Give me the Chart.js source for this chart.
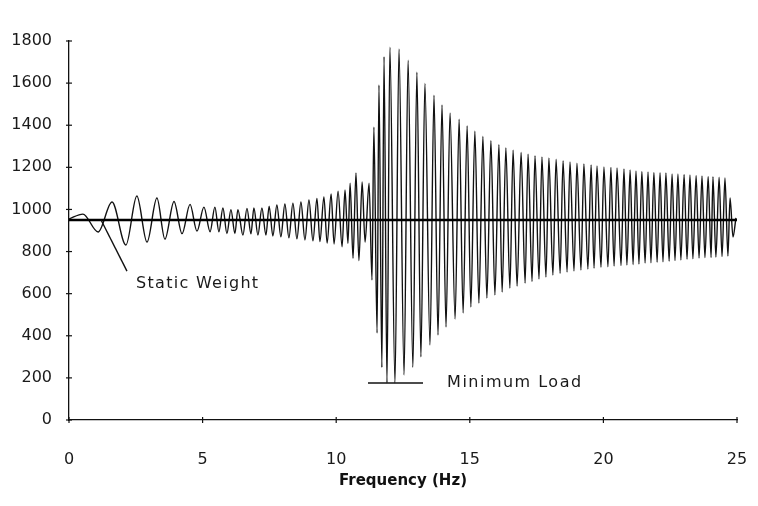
<!DOCTYPE html>
<html>
<head>
<meta charset="utf-8">
<script src="https://cdn.jsdelivr.net/npm/chart.js@4/dist/chart.umd.min.js"></script>
<style>
  html, body { margin: 0; padding: 0; background: #ffffff; }
  #c { display: block; }
</style>
</head>
<body>
<canvas id="c" width="758" height="506"></canvas>
<script>
// ---- Data ----
// Frequency (Hz) of each turning point of the dynamic load trace
const freqHz = [
  0, 0.52, 1.09, 1.61, 2.13, 2.54, 2.92, 3.29, 3.59, 3.93, 4.23, 4.53, 4.79,
  5.05, 5.28, 5.46, 5.61, 5.76, 5.91, 6.06, 6.21, 6.32, 6.51, 6.66, 6.81, 6.92,
  7.07, 7.22, 7.37, 7.49, 7.63, 7.78, 7.93, 8.08, 8.23, 8.38, 8.53, 8.68, 8.83,
  8.98, 9.13, 9.28, 9.39, 9.54, 9.66, 9.81, 9.92, 10.07, 10.22, 10.33, 10.44,
  10.52, 10.63, 10.74, 10.85, 10.97, 11.08, 11.23, 11.34, 11.41, 11.53, 11.60,
  11.71, 11.79, 11.90, 12.01, 12.20, 12.35, 12.54, 12.69, 12.87, 13.02, 13.17,
  13.32, 13.51, 13.66, 13.81, 13.96, 14.11, 14.26, 14.45, 14.60, 14.75, 14.90,
  15.04, 15.19, 15.34, 15.49, 15.64, 15.79, 15.94, 16.09, 16.21, 16.35, 16.50,
  16.62, 16.77, 16.92, 17.07, 17.18, 17.33, 17.44, 17.59, 17.70, 17.85, 17.96,
  18.11, 18.23, 18.38, 18.49, 18.64, 18.75, 18.90, 19.01, 19.16, 19.27, 19.42,
  19.54, 19.65, 19.76, 19.91, 20.02, 20.17, 20.28, 20.40, 20.51, 20.66, 20.77,
  20.88, 21.00, 21.11, 21.22, 21.33, 21.44, 21.56, 21.67, 21.78, 21.89, 22.01,
  22.12, 22.23, 22.34, 22.46, 22.57, 22.68, 22.79, 22.90, 23.02, 23.13, 23.24,
  23.35, 23.47, 23.58, 23.69, 23.80, 23.92, 24.03, 24.10, 24.21, 24.33, 24.44,
  24.55, 24.66, 24.74, 24.85, 24.96
];
// Load at each turning point
const loadValues = [
  955, 978, 893, 1035, 831, 1064, 845, 1054, 859, 1038, 885, 1024, 897,
  1011, 894, 1011, 894, 1007, 886, 999, 886, 999, 878, 1005, 884, 1007,
  878, 1007, 878, 1016, 874, 1021, 870, 1026, 865, 1030, 860, 1035, 855,
  1045, 851, 1052, 847, 1059, 840, 1073, 836, 1087, 823, 1092, 839,
  1125, 768, 1173, 757, 1130, 845, 1125, 665, 1391, 413, 1591,
  250, 1726, 176, 1771, 176, 1762, 214, 1709, 250, 1652, 300,
  1598, 356, 1543, 404, 1496, 442, 1458, 480, 1429, 508, 1396,
  537, 1372, 556, 1347, 579, 1327, 594, 1308, 608, 1292, 627,
  1281, 636, 1271, 650, 1262, 658, 1255, 670, 1249, 679, 1244,
  688, 1239, 696, 1232, 703, 1226, 708, 1220, 712, 1216, 717,
  1211, 720, 1206, 725, 1202, 728, 1200, 731, 1197, 733, 1192,
  736, 1187, 738, 1183, 741, 1181, 745, 1178, 747, 1176, 749,
  1175, 751, 1173, 754, 1169, 757, 1168, 760, 1166, 763, 1164,
  766, 1162, 769, 1159, 771, 1157, 772, 1155, 774, 1153, 776,
  1149, 779, 1054, 869, 960
];
const staticWeight = 950;
const staticSpanHz = [0, 25];
const xTickValues = [0, 5, 10, 15, 20, 25];
const yTickValues = [0, 200, 400, 600, 800, 1000, 1200, 1400, 1600, 1800];
const xTitle = 'Frequency (Hz)';
const staticLabelText = 'Static Weight';
const minLoadLabelText = 'Minimum Load';
const minimumLoad = 176;

// ---- Build datasets ----
const tracePoints = freqHz.map((f, i) => ({ x: f, y: loadValues[i] }));
const staticPoints = staticSpanHz.map(f => ({ x: f, y: staticWeight }));

const FONT = '"DejaVu Sans", sans-serif';

// Annotation placement (in data units)
const ann = {
  staticLeader: { from: [1.20, staticWeight], to: [2.17, 707] },
  staticText: { at: [2.51, 646], width: 122 },
  minBar: { from: 11.19, to: 13.25 },
  minText: { at: [14.15, minimumLoad], width: 134 }
};

function fitText(ctx, text, x, y, width) {
  ctx.letterSpacing = '0px';
  const w = ctx.measureText(text).width;
  const n = text.length - 1;
  const ls = n > 0 ? (width - w) / n : 0;
  ctx.letterSpacing = ls.toFixed(2) + 'px';
  ctx.fillText(text, x, y);
  ctx.letterSpacing = '0px';
}

const decor = {
  id: 'decor',
  afterDraw(chart) {
    const { ctx, scales: { x, y } } = chart;
    ctx.save();
    ctx.strokeStyle = '#111';
    ctx.lineWidth = 1.2;
    // crossing tick marks on both axes
    const y0 = y.getPixelForValue(0);
    const x0 = x.getPixelForValue(0);
    xTickValues.forEach(v => {
      const px = x.getPixelForValue(v);
      ctx.beginPath(); ctx.moveTo(px, y0 - 3); ctx.lineTo(px, y0 + 3); ctx.stroke();
    });
    yTickValues.forEach(v => {
      const py = y.getPixelForValue(v);
      ctx.beginPath(); ctx.moveTo(x0 - 3, py); ctx.lineTo(x0 + 3, py); ctx.stroke();
    });
    // static weight leader line
    ctx.lineWidth = 1.4;
    ctx.beginPath();
    ctx.moveTo(x.getPixelForValue(ann.staticLeader.from[0]), y.getPixelForValue(ann.staticLeader.from[1]));
    ctx.lineTo(x.getPixelForValue(ann.staticLeader.to[0]), y.getPixelForValue(ann.staticLeader.to[1]));
    ctx.stroke();
    // minimum load bar
    ctx.beginPath();
    ctx.moveTo(x.getPixelForValue(ann.minBar.from), y.getPixelForValue(minimumLoad));
    ctx.lineTo(x.getPixelForValue(ann.minBar.to), y.getPixelForValue(minimumLoad));
    ctx.stroke();
    // labels
    ctx.fillStyle = '#1a1a1a';
    ctx.font = '16px ' + FONT;
    ctx.textAlign = 'left';
    ctx.textBaseline = 'middle';
    fitText(ctx, staticLabelText, x.getPixelForValue(ann.staticText.at[0]), y.getPixelForValue(ann.staticText.at[1]), ann.staticText.width);
    fitText(ctx, minLoadLabelText, x.getPixelForValue(ann.minText.at[0]), y.getPixelForValue(ann.minText.at[1]), ann.minText.width);
    ctx.restore();
  }
};

new Chart(document.getElementById('c'), {
  type: 'scatter',
  data: {
    datasets: [
      { label: 'Static Weight', data: staticPoints, showLine: true, borderColor: '#000', borderWidth: 2.6, pointRadius: 0 },
      { label: 'Load', data: tracePoints, showLine: true, borderColor: '#111', borderWidth: 1.4, pointRadius: 0, cubicInterpolationMode: 'monotone' }
    ]
  },
  options: {
    responsive: false,
    animation: false,
    layout: { padding: { left: 0, right: 21, top: 41, bottom: 0 } },
    plugins: { legend: { display: false }, tooltip: { enabled: false } },
    scales: {
      x: {
        type: 'linear',
        min: 0, max: 25,
        afterBuildTicks: s => { s.ticks = xTickValues.map(v => ({ value: v })); },
        afterFit: s => { s.height = 86; s.paddingRight = 0; s.paddingLeft = 0; },
        grid: { display: false },
        border: { display: true, color: '#111', width: 1.3 },
        ticks: { color: '#1a1a1a', font: { family: FONT, size: 16 }, padding: 22, maxRotation: 0,
                 callback: v => String(v) },
        title: {
          display: true, text: xTitle, color: '#111',
          font: { family: FONT, size: 15, weight: 'bold' },
          padding: { top: 0, bottom: 16 }
        }
      },
      y: {
        type: 'linear',
        min: 0, max: 1800,
        afterBuildTicks: s => { s.ticks = yTickValues.map(v => ({ value: v })); },
        afterFit: s => { s.width = 69; },
        grid: { display: false },
        border: { display: true, color: '#111', width: 1.3 },
        ticks: { color: '#1a1a1a', font: { family: FONT, size: 16 }, padding: 9, callback: v => String(v) }
      }
    }
  },
  plugins: [decor]
});
</script>
</body>
</html>
